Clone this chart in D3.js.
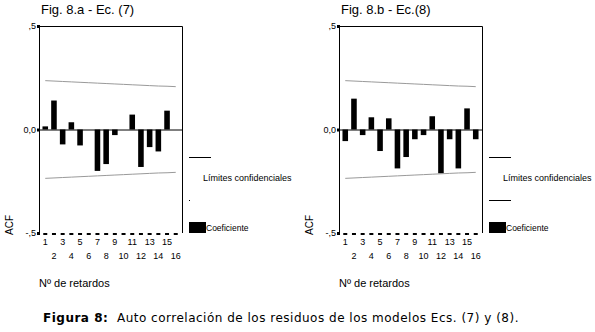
<!DOCTYPE html>
<html>
<head>
<meta charset="utf-8">
<script src="https://cdn.jsdelivr.net/npm/d3@7"></script>
<style>
  body { margin: 0; background: #fff; }
  text { font-family: "Liberation Sans", Arial, sans-serif; fill: #000; }
</style>
</head>
<body>
<svg id="chart" width="595" height="332"></svg>
<script>
// values
const lags = [1, 2, 3, 4, 5, 6, 7, 8, 9, 10, 11, 12, 13, 14, 15, 16];
const acfA = [0.015, 0.14, -0.072, 0.035, -0.077, 0.0, -0.20, -0.167, -0.027, 0.0, 0.072, -0.181, -0.085, -0.106, 0.091, 0.0];
const acfB = [-0.056, 0.149, -0.027, 0.059, -0.104, 0.054, -0.188, -0.133, -0.047, -0.027, 0.064, -0.212, -0.047, -0.188, 0.102, -0.047];
const upperLim = [0.236, 0.234, 0.232, 0.230, 0.228, 0.226, 0.224, 0.222, 0.220, 0.218, 0.216, 0.214, 0.212, 0.210, 0.209, 0.207];
const lowerLim = [-0.236, -0.234, -0.232, -0.230, -0.228, -0.226, -0.224, -0.222, -0.220, -0.218, -0.216, -0.214, -0.212, -0.210, -0.209, -0.207];
const yTicks = [0.5, 0, -0.5];
const yTickLabels = [",5", "0,0", "-,5"];
const titles = ["Fig. 8.a - Ec. (7)", "Fig. 8.b - Ec.(8)"];

const svg = d3.select("#chart");

const x = d3.scaleBand()
    .domain(lags)
    .range([39, 182])
    .paddingInner(0.36)
    .paddingOuter(0.4);

const y = d3.scaleLinear()
    .domain([-0.5, 0.5])
    .range([233, 26]);

function drawPanel(offset, values, title, shortSecondLine) {
    const g = svg.append("g").attr("transform", `translate(${offset},0)`);

    g.append("text")
        .attr("x", 41)
        .attr("y", 14)
        .style("font-size", "13px")
        .text(title);

    // bars
    g.append("g")
        .selectAll("rect")
        .data(lags)
        .join("rect")
        .attr("x", (d) => x(d))
        .attr("width", x.bandwidth())
        .attr("y", (d, i) => y(Math.max(0, values[i])))
        .attr("height", (d, i) => Math.abs(y(values[i]) - y(0)))
        .attr("fill", "#000");

    // confidence limits
    const line = d3.line()
        .x((d, i) => x(lags[i]) + x.bandwidth() / 2)
        .y((d) => y(d));
    [upperLim, lowerLim].forEach((lim) => {
        g.append("path")
            .attr("d", line(lim))
            .attr("fill", "none")
            .attr("stroke", "#9a9a9a")
            .attr("stroke-width", 1);
    });

    // frame: left, top, right solid; zero line
    g.append("path")
        .attr("d", `M${x.range()[0] + 0.5},${y(-0.5)}V${y(0.5) + 0.5}H${x.range()[1] + 0.5}V${y(-0.5)}`)
        .attr("fill", "none")
        .attr("stroke", "#000");
    g.append("line")
        .attr("x1", x.range()[0])
        .attr("x2", x.range()[1])
        .attr("y1", y(0) + 0.5)
        .attr("y2", y(0) + 0.5)
        .attr("stroke", "#000");

    // y ticks
    yTicks.forEach((t, i) => {
        g.append("rect")
            .attr("x", x.range()[0] - 2)
            .attr("y", y(t) - 1)
            .attr("width", 3)
            .attr("height", 3)
            .attr("fill", "#000");
        g.append("text")
            .attr("x", 36)
            .attr("y", y(t) + 3)
            .attr("text-anchor", "end")
            .style("font-size", "9px")
            .text(yTickLabels[i]);
    });

    // x axis drawn as dashes at each lag
    g.append("g")
        .selectAll("rect")
        .data(lags)
        .join("rect")
        .attr("x", (d) => x(d) + x.bandwidth() / 2 - 2)
        .attr("y", y(-0.5))
        .attr("width", 4)
        .attr("height", 2)
        .attr("fill", "#000");

    g.append("g")
        .selectAll("text")
        .data(lags)
        .join("text")
        .attr("x", (d) => x(d) + x.bandwidth() / 2)
        .attr("y", (d) => (d % 2 === 1 ? 245 : 259))
        .attr("text-anchor", "middle")
        .style("font-size", "9px")
        .text((d) => d);

    g.append("text")
        .attr("transform", "translate(13,225) rotate(-90)")
        .attr("text-anchor", "middle")
        .style("font-size", "10px")
        .text("ACF");

    g.append("text")
        .attr("x", 39)
        .attr("y", 287)
        .style("font-size", "11px")
        .text("Nº de retardos");

    // legend
    g.append("line")
        .attr("x1", 189).attr("x2", 211)
        .attr("y1", 157.5).attr("y2", 157.5)
        .attr("stroke", "#000");
    g.append("text")
        .attr("x", 203)
        .attr("y", 181)
        .style("font-size", "9px")
        .text("Límites confidenciales");
    g.append("line")
        .attr("x1", 189).attr("x2", shortSecondLine ? 190 : 211)
        .attr("y1", 200.5).attr("y2", 200.5)
        .attr("stroke", "#000");
    g.append("rect")
        .attr("x", 189).attr("y", 222)
        .attr("width", 17).attr("height", 11)
        .attr("fill", "#000");
    g.append("text")
        .attr("x", 206)
        .attr("y", 231)
        .style("font-size", "8.5px")
        .text("Coeficiente");
}

drawPanel(0, acfA, titles[0], true);
drawPanel(300, acfB, titles[1], false);

// caption
const cap = svg.append("text")
    .attr("x", 43)
    .attr("y", 322)
    .style("font-family", "'DejaVu Sans', sans-serif")
    .style("font-size", "12px")
    .style("letter-spacing", "0.5px")
    .style("white-space", "pre");
cap.append("tspan").style("font-weight", "bold").text("Figura 8:");
cap.append("tspan").text("  Auto correlación de los residuos de los modelos Ecs. (7) y (8).");
</script>
</body>
</html>
